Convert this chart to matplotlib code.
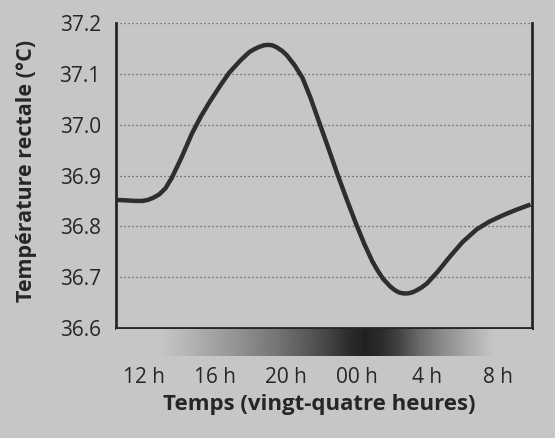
import numpy as np
import matplotlib
matplotlib.use('Agg')
import matplotlib.pyplot as plt
from matplotlib.colors import LinearSegmentedColormap

# heures depuis minuit du premier jour (24 = 00 h, 28 = 4 h ...)
heures = [10.4, 11.0, 11.5, 11.9, 12.2, 12.5, 12.85, 13.2, 13.55, 14.1, 14.7,
          15.2, 15.7, 16.3, 16.8, 17.4, 17.7, 17.95, 18.25, 18.5, 18.75, 19.0,
          19.25, 19.5, 19.8, 20.05, 20.5, 20.95, 21.4, 21.9, 22.4, 22.9, 23.45,
          24.0, 24.45, 24.9, 25.2, 25.5, 25.9, 26.15, 26.4, 26.65, 26.9, 27.15,
          27.4, 27.7, 28.0, 28.6, 29.3, 30.0, 30.8, 31.5, 32.3, 33.0, 33.85]
temperature = [36.852, 36.851, 36.850, 36.850, 36.852, 36.856, 36.863, 36.875,
               36.895, 36.935, 36.983, 37.016, 37.045, 37.077, 37.102, 37.125,
               37.135, 37.143, 37.149, 37.153, 37.156, 37.157, 37.156, 37.152,
               37.145, 37.137, 37.117, 37.092, 37.053, 37.004, 36.955, 36.905,
               36.853, 36.803, 36.765, 36.731, 36.713, 36.697, 36.682, 36.675,
               36.670, 36.668, 36.668, 36.670, 36.674, 36.680, 36.688, 36.711,
               36.741, 36.769, 36.794, 36.809, 36.822, 36.832, 36.843]

ticks_h = [12, 16, 20, 24, 28, 32]
tick_labels = ['12 h', '16 h', '20 h', '00 h', '4 h', '8 h']

# obscurite (nuit) sous l'axe
nuit_h = [10.4, 13.0, 15.0, 17.5, 19.5, 21.0, 22.5, 23.5, 24.5, 25.5, 26.5,
          27.5, 28.5, 30.0, 31.7, 33.9]
nuit = [0.0, 0.0, 0.14, 0.32, 0.48, 0.62, 0.77, 0.9, 0.97, 0.9, 0.75, 0.55,
        0.4, 0.2, 0.0, 0.0]

bg = '#c6c6c4'
ink = '#262626'

plt.rcParams['font.family'] = ['Open Sans', 'DejaVu Sans']

fig = plt.figure(figsize=(5.55, 4.38), dpi=100, facecolor=bg)
ax = fig.add_axes([116 / 555, 1 - 328 / 438, 416 / 555, 305 / 438])
ax.set_facecolor(bg)

ax.plot(heures, temperature, color='#2e2e2e', lw=3.2,
        solid_joinstyle='round', solid_capstyle='butt')

ax.set_xlim(10.4, 33.93)
ax.set_ylim(36.6, 37.2)
ax.set_yticks([36.6, 36.7, 36.8, 36.9, 37.0, 37.1, 37.2])
ax.set_yticklabels(['36.6', '36.7', '36.8', '36.9', '37.0', '37.1', '37.2'])
ax.set_xticks(ticks_h)
ax.set_xticklabels(tick_labels)

for v in [36.7, 36.8, 36.9, 37.0, 37.1, 37.2]:
    ax.axhline(v, color='#505050', lw=0.9, ls=(0, (1, 2.2)), zorder=0)

for s in ['left', 'right', 'bottom']:
    ax.spines[s].set_linewidth(2.0)
    ax.spines[s].set_color(ink)
ax.spines['top'].set_visible(False)

ax.tick_params(axis='both', length=0, labelsize=15, labelcolor=ink)
ax.tick_params(axis='y', pad=11)
ax.tick_params(axis='x', pad=28)

ax.set_ylabel('Température rectale (°C)', fontsize=15.5, fontweight='bold', color=ink)
ax.yaxis.set_label_coords(-0.19, 0.515)
ax.set_xlabel('Temps (vingt-quatre heures)', fontsize=16, fontweight='bold', color=ink)
ax.xaxis.set_label_coords(0.488, -0.215)

# bande jour / nuit
axn = fig.add_axes([116 / 555, 1 - 356 / 438, 416 / 555, 27 / 438])
cmap = LinearSegmentedColormap.from_list('nuit', [bg, '#1c1c1c'])
X, Y = np.meshgrid(nuit_h, [0, 1])
C = np.vstack([nuit, nuit])
axn.pcolormesh(X, Y, C, shading='gouraud', cmap=cmap, vmin=0, vmax=1)
axn.set_xlim(10.4, 33.93)
axn.set_ylim(0, 1)
axn.axis('off')

fig.savefig('out.png', dpi=100, facecolor=bg)
